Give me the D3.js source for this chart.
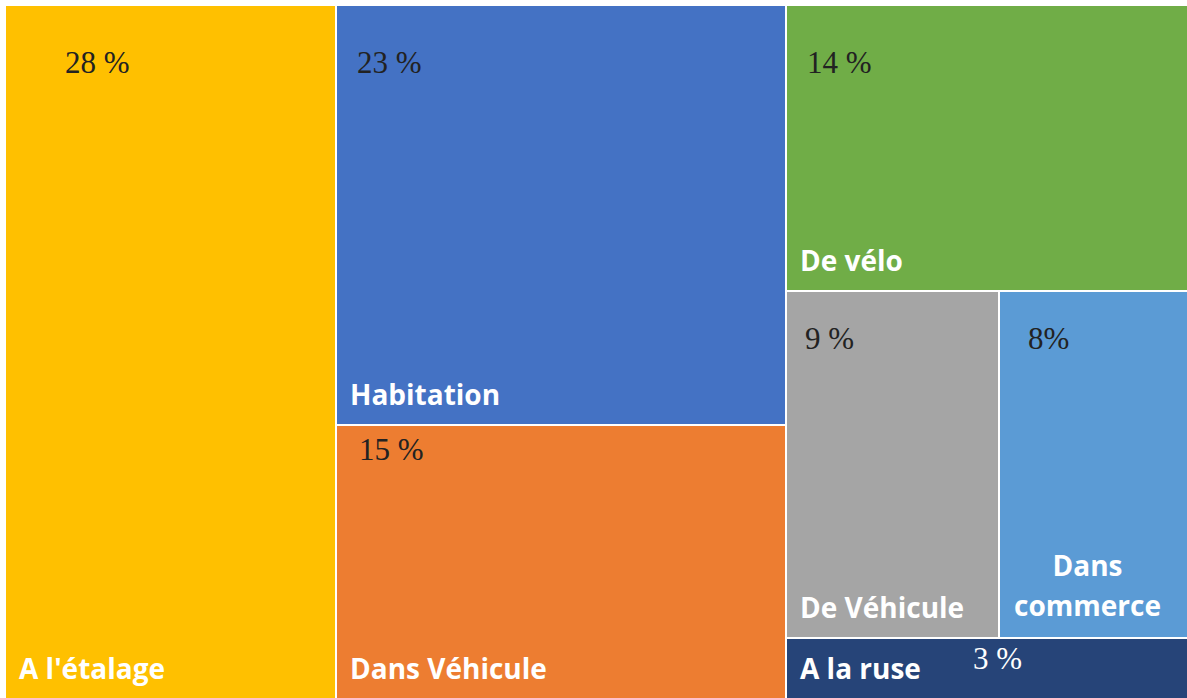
<!DOCTYPE html>
<html>
<head>
<meta charset="utf-8">
<script src="https://cdn.jsdelivr.net/npm/d3@7"></script>
<style>
  html, body { margin: 0; padding: 0; background: #ffffff; }
  svg { display: block; }
</style>
</head>
<body>
<svg id="chart" width="1187" height="698"></svg>
<script>
// Share of thefts by type (percent)
const categories = ["A l'étalage", "Habitation", "Dans Véhicule", "De vélo", "De Véhicule", "Dans commerce", "A la ruse"];
const shares = [28, 23, 15, 14, 9, 8, 3];
const percentLabels = ["28 %", "23 %", "15 %", "14 %", "9 %", "8%", "3 %"];
const colors = ["#FFC000", "#4472C4", "#ED7D31", "#70AD47", "#A5A5A5", "#5B9BD5", "#264478"];
const percentColors = ["#222222", "#222222", "#222222", "#222222", "#222222", "#222222", "#ffffff"];

// Column / row grouping of the tiles (indices into the arrays above)
const grouping = [[0], [1, 2], [3, [4, 5], 6]];

// Placement of the percent text inside each tile: offset from tile's top-left (baseline)
const pctOffset = [[59, 67], [20, 67], [22, 34], [20, 67], [18, 57], [28, 57], [186, 30]];

const W = 1187, H = 698, M = { left: 6, top: 6 };

function build(node) {
  if (Array.isArray(node)) return { children: node.map(build) };
  return { index: node, name: categories[node], value: shares[node] };
}

const root = d3.hierarchy(build(grouping))
  .sum(d => d.value || 0);

d3.treemap()
  .tile(d3.treemapSliceDice)
  .size([W - M.left, H - M.top])
  .paddingInner(2)
  .round(true)(root);

const svg = d3.select("#chart");
const g = svg.append("g").attr("transform", `translate(${M.left},${M.top})`);

const leaves = root.leaves();

const cell = g.selectAll("g.cell")
  .data(leaves)
  .join("g")
  .attr("class", "cell")
  .attr("transform", d => `translate(${d.x0},${d.y0})`);

cell.append("rect")
  .attr("width", d => d.x1 - d.x0)
  .attr("height", d => d.y1 - d.y0)
  .attr("fill", d => colors[d.data.index]);

const labelFont = "'Open Sans', Lato, sans-serif";
const labelSize = 28;

// Category names, white bold, bottom-left of each tile
cell.filter(d => d.data.name !== "Dans commerce")
  .append("text")
  .attr("x", 13)
  .attr("y", d => d.y1 - d.y0 - 19)
  .attr("fill", "#ffffff")
  .attr("font-family", labelFont)
  .attr("font-weight", "bold")
  .attr("font-size", labelSize)
  .text(d => d.data.name);

// Two-line centred label for the narrow tile
cell.filter(d => d.data.name === "Dans commerce")
  .append("text")
  .attr("text-anchor", "middle")
  .attr("fill", "#ffffff")
  .attr("font-family", labelFont)
  .attr("font-weight", "bold")
  .attr("font-size", labelSize)
  .selectAll("tspan")
  .data(d => d.data.name.split(" ").map(w => ({ w, d })))
  .join("tspan")
  .attr("x", o => (o.d.x1 - o.d.x0) / 2 - 6)
  .attr("y", (o, i) => o.d.y1 - o.d.y0 - 61 + i * 40)
  .text(o => o.w);

// Percent values
cell.append("text")
  .attr("x", d => pctOffset[d.data.index][0])
  .attr("y", d => pctOffset[d.data.index][1])
  .attr("fill", d => percentColors[d.data.index])
  .attr("font-family", "'Liberation Serif', 'Times New Roman', serif")
  .attr("font-size", 31)
  .text(d => percentLabels[d.data.index]);
</script>
</body>
</html>
